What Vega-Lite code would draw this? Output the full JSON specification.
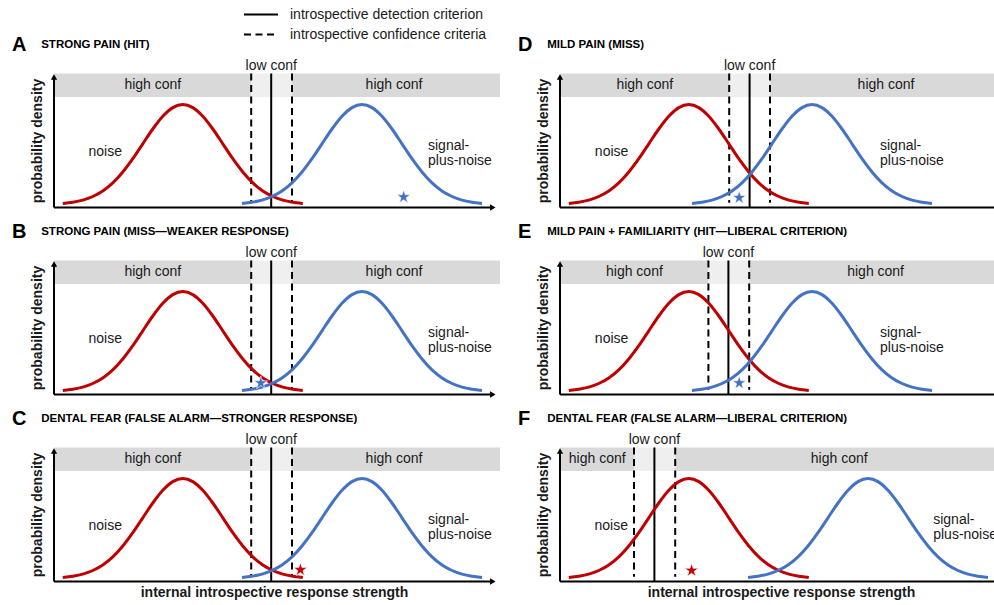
{
"$schema": "https://vega.github.io/schema/vega-lite/v6.json",
"padding": {"left": 12, "top": 4.5, "right": 0, "bottom": 0},
"config": {"view": {"stroke": null}, "font": "Liberation Sans",
 "text": {"font": "Liberation Sans", "fontSize": 14, "color": "#1a1a1a"},
 "rule": {"strokeWidth": 2, "color": "black"},
 "line": {"strokeWidth": 3, "interpolate": "monotone"},
 "axis": {"domain": false, "ticks": false, "labels": false, "grid": false, "titleFont": "Liberation Sans", "titleFontSize": 14, "titleFontWeight": "bold", "titleColor": "#1a1a1a"}},
"data": {"name": "all"},
"datasets": {"all": [
{"p":"A","i":1,"lo":4.93,"c":5.43,"hi":5.95,"end":11.15,"h1":2.47,"h2":8.5,"nx":1.28,"gx":9.35,"sx":8.74,"sy":10.5,"ss":"signal","L":"A","T":"STRONG PAIN (HIT)","ck":"introspective detection criterion","dk":"introspective confidence criteria"},
{"p":"B","i":1,"lo":4.93,"c":5.43,"hi":5.95,"end":11.15,"h1":2.47,"h2":8.5,"nx":1.28,"gx":9.35,"sx":5.17,"sy":11.5,"ss":"signal","L":"B","T":"STRONG PAIN (MISS—WEAKER RESPONSE)","ck":"introspective detection criterion","dk":"introspective confidence criteria"},
{"p":"C","i":1,"lo":4.93,"c":5.43,"hi":5.95,"end":11.15,"h1":2.47,"h2":8.5,"nx":1.28,"gx":9.35,"sx":6.16,"sy":11.7,"ss":"noise","L":"C","T":"DENTAL FEAR (FALSE ALARM—STRONGER RESPONSE)","ck":"introspective detection criterion","dk":"introspective confidence criteria"},
{"p":"D","i":1,"lo":4.23,"c":4.74,"hi":5.25,"end":10.85,"h1":2.12,"h2":8.15,"nx":1.29,"gx":8.0,"sx":4.48,"sy":9.8,"ss":"signal","L":"D","T":"MILD PAIN (MISS)","ck":"introspective detection criterion","dk":"introspective confidence criteria"},
{"p":"E","i":1,"lo":3.71,"c":4.21,"hi":4.73,"end":10.85,"h1":1.86,"h2":7.89,"nx":1.29,"gx":8.0,"sx":4.48,"sy":11.5,"ss":"signal","L":"E","T":"MILD PAIN + FAMILIARITY (HIT—LIBERAL CRITERION)","ck":"introspective detection criterion","dk":"introspective confidence criteria"},
{"p":"F","i":1,"lo":1.85,"c":2.36,"hi":2.88,"end":10.85,"h1":0.93,"h2":6.98,"nx":1.28,"gx":9.33,"sx":3.29,"sy":11,"ss":"noise","L":"F","T":"DENTAL FEAR (FALSE ALARM—LIBERAL CRITERION)","ck":"introspective detection criterion","dk":"introspective confidence criteria"},
{"p":"A","s":"noise","x":0.22,"y":4.1},{"p":"A","s":"noise","x":0.47,"y":5.3},{"p":"A","s":"noise","x":0.72,"y":7.4},{"p":"A","s":"noise","x":0.97,"y":11},{"p":"A","s":"noise","x":1.22,"y":16.5},{"p":"A","s":"noise","x":1.47,"y":24.6},{"p":"A","s":"noise","x":1.72,"y":35.5},{"p":"A","s":"noise","x":1.97,"y":48.8},{"p":"A","s":"noise","x":2.22,"y":63.7},{"p":"A","s":"noise","x":2.47,"y":78.5},{"p":"A","s":"noise","x":2.72,"y":91.2},{"p":"A","s":"noise","x":2.97,"y":99.9},{"p":"A","s":"noise","x":3.22,"y":103},{"p":"A","s":"noise","x":3.47,"y":99.9},{"p":"A","s":"noise","x":3.72,"y":91.2},{"p":"A","s":"noise","x":3.97,"y":78.5},{"p":"A","s":"noise","x":4.22,"y":63.7},{"p":"A","s":"noise","x":4.47,"y":48.8},{"p":"A","s":"noise","x":4.72,"y":35.5},{"p":"A","s":"noise","x":4.97,"y":24.6},{"p":"A","s":"noise","x":5.22,"y":16.5},{"p":"A","s":"noise","x":5.47,"y":11},{"p":"A","s":"noise","x":5.72,"y":7.4},{"p":"A","s":"noise","x":5.97,"y":5.3},{"p":"A","s":"noise","x":6.22,"y":4.1},
{"p":"A","s":"signal","x":4.7,"y":4.1},{"p":"A","s":"signal","x":4.95,"y":5.3},{"p":"A","s":"signal","x":5.2,"y":7.4},{"p":"A","s":"signal","x":5.45,"y":11},{"p":"A","s":"signal","x":5.7,"y":16.5},{"p":"A","s":"signal","x":5.95,"y":24.6},{"p":"A","s":"signal","x":6.2,"y":35.5},{"p":"A","s":"signal","x":6.45,"y":48.8},{"p":"A","s":"signal","x":6.7,"y":63.7},{"p":"A","s":"signal","x":6.95,"y":78.5},{"p":"A","s":"signal","x":7.2,"y":91.2},{"p":"A","s":"signal","x":7.45,"y":99.9},{"p":"A","s":"signal","x":7.7,"y":103},{"p":"A","s":"signal","x":7.95,"y":99.9},{"p":"A","s":"signal","x":8.2,"y":91.2},{"p":"A","s":"signal","x":8.45,"y":78.5},{"p":"A","s":"signal","x":8.7,"y":63.7},{"p":"A","s":"signal","x":8.95,"y":48.8},{"p":"A","s":"signal","x":9.2,"y":35.5},{"p":"A","s":"signal","x":9.45,"y":24.6},{"p":"A","s":"signal","x":9.7,"y":16.5},{"p":"A","s":"signal","x":9.95,"y":11},{"p":"A","s":"signal","x":10.2,"y":7.4},{"p":"A","s":"signal","x":10.45,"y":5.3},{"p":"A","s":"signal","x":10.7,"y":4.1},
{"p":"B","s":"noise","x":0.22,"y":4.1},{"p":"B","s":"noise","x":0.47,"y":5.3},{"p":"B","s":"noise","x":0.72,"y":7.4},{"p":"B","s":"noise","x":0.97,"y":11},{"p":"B","s":"noise","x":1.22,"y":16.5},{"p":"B","s":"noise","x":1.47,"y":24.6},{"p":"B","s":"noise","x":1.72,"y":35.5},{"p":"B","s":"noise","x":1.97,"y":48.8},{"p":"B","s":"noise","x":2.22,"y":63.7},{"p":"B","s":"noise","x":2.47,"y":78.5},{"p":"B","s":"noise","x":2.72,"y":91.2},{"p":"B","s":"noise","x":2.97,"y":99.9},{"p":"B","s":"noise","x":3.22,"y":103},{"p":"B","s":"noise","x":3.47,"y":99.9},{"p":"B","s":"noise","x":3.72,"y":91.2},{"p":"B","s":"noise","x":3.97,"y":78.5},{"p":"B","s":"noise","x":4.22,"y":63.7},{"p":"B","s":"noise","x":4.47,"y":48.8},{"p":"B","s":"noise","x":4.72,"y":35.5},{"p":"B","s":"noise","x":4.97,"y":24.6},{"p":"B","s":"noise","x":5.22,"y":16.5},{"p":"B","s":"noise","x":5.47,"y":11},{"p":"B","s":"noise","x":5.72,"y":7.4},{"p":"B","s":"noise","x":5.97,"y":5.3},{"p":"B","s":"noise","x":6.22,"y":4.1},
{"p":"B","s":"signal","x":4.7,"y":4.1},{"p":"B","s":"signal","x":4.95,"y":5.3},{"p":"B","s":"signal","x":5.2,"y":7.4},{"p":"B","s":"signal","x":5.45,"y":11},{"p":"B","s":"signal","x":5.7,"y":16.5},{"p":"B","s":"signal","x":5.95,"y":24.6},{"p":"B","s":"signal","x":6.2,"y":35.5},{"p":"B","s":"signal","x":6.45,"y":48.8},{"p":"B","s":"signal","x":6.7,"y":63.7},{"p":"B","s":"signal","x":6.95,"y":78.5},{"p":"B","s":"signal","x":7.2,"y":91.2},{"p":"B","s":"signal","x":7.45,"y":99.9},{"p":"B","s":"signal","x":7.7,"y":103},{"p":"B","s":"signal","x":7.95,"y":99.9},{"p":"B","s":"signal","x":8.2,"y":91.2},{"p":"B","s":"signal","x":8.45,"y":78.5},{"p":"B","s":"signal","x":8.7,"y":63.7},{"p":"B","s":"signal","x":8.95,"y":48.8},{"p":"B","s":"signal","x":9.2,"y":35.5},{"p":"B","s":"signal","x":9.45,"y":24.6},{"p":"B","s":"signal","x":9.7,"y":16.5},{"p":"B","s":"signal","x":9.95,"y":11},{"p":"B","s":"signal","x":10.2,"y":7.4},{"p":"B","s":"signal","x":10.45,"y":5.3},{"p":"B","s":"signal","x":10.7,"y":4.1},
{"p":"C","s":"noise","x":0.22,"y":4.1},{"p":"C","s":"noise","x":0.47,"y":5.3},{"p":"C","s":"noise","x":0.72,"y":7.4},{"p":"C","s":"noise","x":0.97,"y":11},{"p":"C","s":"noise","x":1.22,"y":16.5},{"p":"C","s":"noise","x":1.47,"y":24.6},{"p":"C","s":"noise","x":1.72,"y":35.5},{"p":"C","s":"noise","x":1.97,"y":48.8},{"p":"C","s":"noise","x":2.22,"y":63.7},{"p":"C","s":"noise","x":2.47,"y":78.5},{"p":"C","s":"noise","x":2.72,"y":91.2},{"p":"C","s":"noise","x":2.97,"y":99.9},{"p":"C","s":"noise","x":3.22,"y":103},{"p":"C","s":"noise","x":3.47,"y":99.9},{"p":"C","s":"noise","x":3.72,"y":91.2},{"p":"C","s":"noise","x":3.97,"y":78.5},{"p":"C","s":"noise","x":4.22,"y":63.7},{"p":"C","s":"noise","x":4.47,"y":48.8},{"p":"C","s":"noise","x":4.72,"y":35.5},{"p":"C","s":"noise","x":4.97,"y":24.6},{"p":"C","s":"noise","x":5.22,"y":16.5},{"p":"C","s":"noise","x":5.47,"y":11},{"p":"C","s":"noise","x":5.72,"y":7.4},{"p":"C","s":"noise","x":5.97,"y":5.3},{"p":"C","s":"noise","x":6.22,"y":4.1},
{"p":"C","s":"signal","x":4.7,"y":4.1},{"p":"C","s":"signal","x":4.95,"y":5.3},{"p":"C","s":"signal","x":5.2,"y":7.4},{"p":"C","s":"signal","x":5.45,"y":11},{"p":"C","s":"signal","x":5.7,"y":16.5},{"p":"C","s":"signal","x":5.95,"y":24.6},{"p":"C","s":"signal","x":6.2,"y":35.5},{"p":"C","s":"signal","x":6.45,"y":48.8},{"p":"C","s":"signal","x":6.7,"y":63.7},{"p":"C","s":"signal","x":6.95,"y":78.5},{"p":"C","s":"signal","x":7.2,"y":91.2},{"p":"C","s":"signal","x":7.45,"y":99.9},{"p":"C","s":"signal","x":7.7,"y":103},{"p":"C","s":"signal","x":7.95,"y":99.9},{"p":"C","s":"signal","x":8.2,"y":91.2},{"p":"C","s":"signal","x":8.45,"y":78.5},{"p":"C","s":"signal","x":8.7,"y":63.7},{"p":"C","s":"signal","x":8.95,"y":48.8},{"p":"C","s":"signal","x":9.2,"y":35.5},{"p":"C","s":"signal","x":9.45,"y":24.6},{"p":"C","s":"signal","x":9.7,"y":16.5},{"p":"C","s":"signal","x":9.95,"y":11},{"p":"C","s":"signal","x":10.2,"y":7.4},{"p":"C","s":"signal","x":10.45,"y":5.3},{"p":"C","s":"signal","x":10.7,"y":4.1},
{"p":"D","s":"noise","x":0.22,"y":4.1},{"p":"D","s":"noise","x":0.47,"y":5.3},{"p":"D","s":"noise","x":0.72,"y":7.4},{"p":"D","s":"noise","x":0.97,"y":11},{"p":"D","s":"noise","x":1.22,"y":16.5},{"p":"D","s":"noise","x":1.47,"y":24.6},{"p":"D","s":"noise","x":1.72,"y":35.5},{"p":"D","s":"noise","x":1.97,"y":48.8},{"p":"D","s":"noise","x":2.22,"y":63.7},{"p":"D","s":"noise","x":2.47,"y":78.5},{"p":"D","s":"noise","x":2.72,"y":91.2},{"p":"D","s":"noise","x":2.97,"y":99.9},{"p":"D","s":"noise","x":3.22,"y":103},{"p":"D","s":"noise","x":3.47,"y":99.9},{"p":"D","s":"noise","x":3.72,"y":91.2},{"p":"D","s":"noise","x":3.97,"y":78.5},{"p":"D","s":"noise","x":4.22,"y":63.7},{"p":"D","s":"noise","x":4.47,"y":48.8},{"p":"D","s":"noise","x":4.72,"y":35.5},{"p":"D","s":"noise","x":4.97,"y":24.6},{"p":"D","s":"noise","x":5.22,"y":16.5},{"p":"D","s":"noise","x":5.47,"y":11},{"p":"D","s":"noise","x":5.72,"y":7.4},{"p":"D","s":"noise","x":5.97,"y":5.3},{"p":"D","s":"noise","x":6.22,"y":4.1},
{"p":"D","s":"signal","x":3.3,"y":4.1},{"p":"D","s":"signal","x":3.55,"y":5.3},{"p":"D","s":"signal","x":3.8,"y":7.4},{"p":"D","s":"signal","x":4.05,"y":11},{"p":"D","s":"signal","x":4.3,"y":16.5},{"p":"D","s":"signal","x":4.55,"y":24.6},{"p":"D","s":"signal","x":4.8,"y":35.5},{"p":"D","s":"signal","x":5.05,"y":48.8},{"p":"D","s":"signal","x":5.3,"y":63.7},{"p":"D","s":"signal","x":5.55,"y":78.5},{"p":"D","s":"signal","x":5.8,"y":91.2},{"p":"D","s":"signal","x":6.05,"y":99.9},{"p":"D","s":"signal","x":6.3,"y":103},{"p":"D","s":"signal","x":6.55,"y":99.9},{"p":"D","s":"signal","x":6.8,"y":91.2},{"p":"D","s":"signal","x":7.05,"y":78.5},{"p":"D","s":"signal","x":7.3,"y":63.7},{"p":"D","s":"signal","x":7.55,"y":48.8},{"p":"D","s":"signal","x":7.8,"y":35.5},{"p":"D","s":"signal","x":8.05,"y":24.6},{"p":"D","s":"signal","x":8.3,"y":16.5},{"p":"D","s":"signal","x":8.55,"y":11},{"p":"D","s":"signal","x":8.8,"y":7.4},{"p":"D","s":"signal","x":9.05,"y":5.3},{"p":"D","s":"signal","x":9.3,"y":4.1},
{"p":"E","s":"noise","x":0.22,"y":4.1},{"p":"E","s":"noise","x":0.47,"y":5.3},{"p":"E","s":"noise","x":0.72,"y":7.4},{"p":"E","s":"noise","x":0.97,"y":11},{"p":"E","s":"noise","x":1.22,"y":16.5},{"p":"E","s":"noise","x":1.47,"y":24.6},{"p":"E","s":"noise","x":1.72,"y":35.5},{"p":"E","s":"noise","x":1.97,"y":48.8},{"p":"E","s":"noise","x":2.22,"y":63.7},{"p":"E","s":"noise","x":2.47,"y":78.5},{"p":"E","s":"noise","x":2.72,"y":91.2},{"p":"E","s":"noise","x":2.97,"y":99.9},{"p":"E","s":"noise","x":3.22,"y":103},{"p":"E","s":"noise","x":3.47,"y":99.9},{"p":"E","s":"noise","x":3.72,"y":91.2},{"p":"E","s":"noise","x":3.97,"y":78.5},{"p":"E","s":"noise","x":4.22,"y":63.7},{"p":"E","s":"noise","x":4.47,"y":48.8},{"p":"E","s":"noise","x":4.72,"y":35.5},{"p":"E","s":"noise","x":4.97,"y":24.6},{"p":"E","s":"noise","x":5.22,"y":16.5},{"p":"E","s":"noise","x":5.47,"y":11},{"p":"E","s":"noise","x":5.72,"y":7.4},{"p":"E","s":"noise","x":5.97,"y":5.3},{"p":"E","s":"noise","x":6.22,"y":4.1},
{"p":"E","s":"signal","x":3.3,"y":4.1},{"p":"E","s":"signal","x":3.55,"y":5.3},{"p":"E","s":"signal","x":3.8,"y":7.4},{"p":"E","s":"signal","x":4.05,"y":11},{"p":"E","s":"signal","x":4.3,"y":16.5},{"p":"E","s":"signal","x":4.55,"y":24.6},{"p":"E","s":"signal","x":4.8,"y":35.5},{"p":"E","s":"signal","x":5.05,"y":48.8},{"p":"E","s":"signal","x":5.3,"y":63.7},{"p":"E","s":"signal","x":5.55,"y":78.5},{"p":"E","s":"signal","x":5.8,"y":91.2},{"p":"E","s":"signal","x":6.05,"y":99.9},{"p":"E","s":"signal","x":6.3,"y":103},{"p":"E","s":"signal","x":6.55,"y":99.9},{"p":"E","s":"signal","x":6.8,"y":91.2},{"p":"E","s":"signal","x":7.05,"y":78.5},{"p":"E","s":"signal","x":7.3,"y":63.7},{"p":"E","s":"signal","x":7.55,"y":48.8},{"p":"E","s":"signal","x":7.8,"y":35.5},{"p":"E","s":"signal","x":8.05,"y":24.6},{"p":"E","s":"signal","x":8.3,"y":16.5},{"p":"E","s":"signal","x":8.55,"y":11},{"p":"E","s":"signal","x":8.8,"y":7.4},{"p":"E","s":"signal","x":9.05,"y":5.3},{"p":"E","s":"signal","x":9.3,"y":4.1},
{"p":"F","s":"noise","x":0.22,"y":4.1},{"p":"F","s":"noise","x":0.47,"y":5.3},{"p":"F","s":"noise","x":0.72,"y":7.4},{"p":"F","s":"noise","x":0.97,"y":11},{"p":"F","s":"noise","x":1.22,"y":16.5},{"p":"F","s":"noise","x":1.47,"y":24.6},{"p":"F","s":"noise","x":1.72,"y":35.5},{"p":"F","s":"noise","x":1.97,"y":48.8},{"p":"F","s":"noise","x":2.22,"y":63.7},{"p":"F","s":"noise","x":2.47,"y":78.5},{"p":"F","s":"noise","x":2.72,"y":91.2},{"p":"F","s":"noise","x":2.97,"y":99.9},{"p":"F","s":"noise","x":3.22,"y":103},{"p":"F","s":"noise","x":3.47,"y":99.9},{"p":"F","s":"noise","x":3.72,"y":91.2},{"p":"F","s":"noise","x":3.97,"y":78.5},{"p":"F","s":"noise","x":4.22,"y":63.7},{"p":"F","s":"noise","x":4.47,"y":48.8},{"p":"F","s":"noise","x":4.72,"y":35.5},{"p":"F","s":"noise","x":4.97,"y":24.6},{"p":"F","s":"noise","x":5.22,"y":16.5},{"p":"F","s":"noise","x":5.47,"y":11},{"p":"F","s":"noise","x":5.72,"y":7.4},{"p":"F","s":"noise","x":5.97,"y":5.3},{"p":"F","s":"noise","x":6.22,"y":4.1},
{"p":"F","s":"signal","x":4.7,"y":4.1},{"p":"F","s":"signal","x":4.95,"y":5.3},{"p":"F","s":"signal","x":5.2,"y":7.4},{"p":"F","s":"signal","x":5.45,"y":11},{"p":"F","s":"signal","x":5.7,"y":16.5},{"p":"F","s":"signal","x":5.95,"y":24.6},{"p":"F","s":"signal","x":6.2,"y":35.5},{"p":"F","s":"signal","x":6.45,"y":48.8},{"p":"F","s":"signal","x":6.7,"y":63.7},{"p":"F","s":"signal","x":6.95,"y":78.5},{"p":"F","s":"signal","x":7.2,"y":91.2},{"p":"F","s":"signal","x":7.45,"y":99.9},{"p":"F","s":"signal","x":7.7,"y":103},{"p":"F","s":"signal","x":7.95,"y":99.9},{"p":"F","s":"signal","x":8.2,"y":91.2},{"p":"F","s":"signal","x":8.45,"y":78.5},{"p":"F","s":"signal","x":8.7,"y":63.7},{"p":"F","s":"signal","x":8.95,"y":48.8},{"p":"F","s":"signal","x":9.2,"y":35.5},{"p":"F","s":"signal","x":9.45,"y":24.6},{"p":"F","s":"signal","x":9.7,"y":16.5},{"p":"F","s":"signal","x":9.95,"y":11},{"p":"F","s":"signal","x":10.2,"y":7.4},{"p":"F","s":"signal","x":10.45,"y":5.3},{"p":"F","s":"signal","x":10.7,"y":4.1}
]},
"bounds": "flush",
"columns": 2,
"spacing": {"row": 53, "column": 66},
"concat": [
{"width": 440, "height": 134, "transform": [{"filter": "datum.p == 'A'"}], "layer": [
{"transform": [{"filter": "datum.i"}], "mark": {"type": "rect", "color": "#d9d9d9"}, "encoding": {"x": {"field": "lo", "type": "quantitative", "scale": {"domain": [0, 11], "nice": false, "zero": false}, "axis": null}, "x2": {"datum": 0}, "y": {"datum": 110.5, "type": "quantitative", "scale": {"domain": [0, 134], "nice": false, "zero": false}, "axis": {"title": "probability density", "titlePadding": 10}}, "y2": {"datum": 134}}},
{"transform": [{"filter": "datum.i"}], "mark": {"type": "rect", "color": "#efefef"}, "encoding": {"x": {"field": "lo", "type": "quantitative"}, "x2": {"field": "hi"}, "y": {"datum": 110.5}, "y2": {"datum": 134}}},
{"transform": [{"filter": "datum.i"}], "mark": {"type": "rect", "color": "#d9d9d9"}, "encoding": {"x": {"field": "hi", "type": "quantitative"}, "x2": {"field": "end"}, "y": {"datum": 110.5}, "y2": {"datum": 134}}},
{"transform": [{"filter": "datum.i"}], "mark": {"type": "text"}, "encoding": {"x": {"field": "h1", "type": "quantitative"}, "y": {"datum": 122.5}, "text": {"value": "high conf"}}},
{"transform": [{"filter": "datum.i"}], "mark": {"type": "text"}, "encoding": {"x": {"field": "h2", "type": "quantitative"}, "y": {"datum": 122.5}, "text": {"value": "high conf"}}},
{"transform": [{"filter": "datum.i"}], "mark": {"type": "text"}, "encoding": {"x": {"field": "c", "type": "quantitative"}, "y": {"datum": 141.5}, "text": {"value": "low conf"}}},
{"transform": [{"filter": "datum.i"}], "mark": {"type": "rule"}, "encoding": {"x": {"field": "c", "type": "quantitative"}, "y": {"datum": 134}, "y2": {"datum": 0}, "strokeDash": {"field": "ck", "type": "nominal", "scale": {"domain": ["introspective detection criterion", "introspective confidence criteria"], "range": [[1, 0], [7, 4.5]]}, "legend": {"orient": "none", "legendX": 197.5, "legendY": -68.5, "title": null, "symbolType": "M-2,0L2,0", "symbolSize": 289, "symbolStrokeWidth": 2, "symbolStrokeColor": "black", "labelFontSize": 14, "labelFont": "Liberation Sans", "labelColor": "#1a1a1a", "labelOffset": 19.5, "labelLimit": 0, "rowPadding": 3}}}},
{"transform": [{"filter": "datum.i"}], "mark": {"type": "rule"}, "encoding": {"x": {"field": "lo", "type": "quantitative"}, "y": {"datum": 134}, "y2": {"datum": 4.8}, "strokeDash": {"field": "dk", "type": "nominal"}}},
{"transform": [{"filter": "datum.i"}], "mark": {"type": "rule"}, "encoding": {"x": {"field": "hi", "type": "quantitative"}, "y": {"datum": 134}, "y2": {"datum": 4.8}, "strokeDash": {"field": "dk", "type": "nominal"}}},
{"transform": [{"filter": "datum.i"}], "mark": {"type": "rule"}, "encoding": {"x": {"datum": 0}, "x2": {"datum": 10.9}, "y": {"datum": 0}}},
{"transform": [{"filter": "datum.i"}], "mark": {"type": "rule"}, "encoding": {"x": {"datum": 0}, "y": {"datum": 0}, "y2": {"datum": 129}}},
{"transform": [{"filter": "datum.i"}], "mark": {"type": "point", "shape": "triangle-up", "filled": true, "color": "black", "size": 40, "opacity": 1}, "encoding": {"x": {"datum": 0}, "y": {"datum": 130.5}}},
{"transform": [{"filter": "datum.i"}], "mark": {"type": "point", "shape": "triangle-right", "filled": true, "color": "black", "size": 40, "opacity": 1}, "encoding": {"x": {"datum": 10.97}, "y": {"datum": 0}}},
{"transform": [{"filter": "datum.s"}], "mark": {"type": "line"}, "encoding": {"x": {"field": "x", "type": "quantitative"}, "y": {"field": "y", "type": "quantitative"}, "color": {"field": "s", "type": "nominal", "scale": {"domain": ["noise", "signal"], "range": ["#c00000", "#4472c4"]}, "legend": null}}},
{"transform": [{"filter": "datum.i"}], "mark": {"type": "point", "shape": "M0,-1L0.2245,-0.309L0.951,-0.309L0.363,0.118L0.588,0.809L0,0.382L-0.588,0.809L-0.363,0.118L-0.951,-0.309L-0.2245,-0.309Z", "filled": true, "size": 200, "opacity": 1, "stroke": "white", "strokeWidth": 0.6}, "encoding": {"x": {"field": "sx", "type": "quantitative"}, "y": {"field": "sy", "type": "quantitative"}, "color": {"field": "ss", "type": "nominal", "legend": null}}},
{"transform": [{"filter": "datum.i"}], "mark": {"type": "text"}, "encoding": {"x": {"field": "nx", "type": "quantitative"}, "y": {"datum": 55.5}, "text": {"value": "noise"}}},
{"transform": [{"filter": "datum.i"}], "mark": {"type": "text", "align": "left"}, "encoding": {"x": {"field": "gx", "type": "quantitative"}, "y": {"datum": 61.5}, "text": {"value": "signal-"}}},
{"transform": [{"filter": "datum.i"}], "mark": {"type": "text", "align": "left"}, "encoding": {"x": {"field": "gx", "type": "quantitative"}, "y": {"datum": 46.5}, "text": {"value": "plus-noise"}}},
{"transform": [{"filter": "datum.i"}], "mark": {"type": "text", "align": "left", "fontSize": 20, "fontWeight": "bold", "color": "black"}, "encoding": {"x": {"datum": -1.05}, "y": {"datum": 162.5}, "text": {"field": "L", "type": "nominal"}}},
{"transform": [{"filter": "datum.i"}], "mark": {"type": "text", "align": "left", "fontSize": 11.5, "fontWeight": "bold", "color": "black"}, "encoding": {"x": {"datum": -0.32}, "y": {"datum": 162.5}, "text": {"field": "T", "type": "nominal"}}}
]},
{"width": 434, "height": 134, "transform": [{"filter": "datum.p == 'D'"}], "layer": [
{"transform": [{"filter": "datum.i"}], "mark": {"type": "rect", "color": "#d9d9d9"}, "encoding": {"x": {"field": "lo", "type": "quantitative", "scale": {"domain": [0, 10.85], "nice": false, "zero": false}, "axis": null}, "x2": {"datum": 0}, "y": {"datum": 110.5, "type": "quantitative", "scale": {"domain": [0, 134], "nice": false, "zero": false}, "axis": {"title": "probability density", "titlePadding": 10}}, "y2": {"datum": 134}}},
{"transform": [{"filter": "datum.i"}], "mark": {"type": "rect", "color": "#efefef"}, "encoding": {"x": {"field": "lo", "type": "quantitative"}, "x2": {"field": "hi"}, "y": {"datum": 110.5}, "y2": {"datum": 134}}},
{"transform": [{"filter": "datum.i"}], "mark": {"type": "rect", "color": "#d9d9d9"}, "encoding": {"x": {"field": "hi", "type": "quantitative"}, "x2": {"field": "end"}, "y": {"datum": 110.5}, "y2": {"datum": 134}}},
{"transform": [{"filter": "datum.i"}], "mark": {"type": "text"}, "encoding": {"x": {"field": "h1", "type": "quantitative"}, "y": {"datum": 122.5}, "text": {"value": "high conf"}}},
{"transform": [{"filter": "datum.i"}], "mark": {"type": "text"}, "encoding": {"x": {"field": "h2", "type": "quantitative"}, "y": {"datum": 122.5}, "text": {"value": "high conf"}}},
{"transform": [{"filter": "datum.i"}], "mark": {"type": "text"}, "encoding": {"x": {"field": "c", "type": "quantitative"}, "y": {"datum": 141.5}, "text": {"value": "low conf"}}},
{"transform": [{"filter": "datum.i"}], "mark": {"type": "rule"}, "encoding": {"x": {"field": "c", "type": "quantitative"}, "y": {"datum": 134}, "y2": {"datum": 0}, "strokeDash": {"field": "ck", "type": "nominal"}}},
{"transform": [{"filter": "datum.i"}], "mark": {"type": "rule"}, "encoding": {"x": {"field": "lo", "type": "quantitative"}, "y": {"datum": 134}, "y2": {"datum": 4.8}, "strokeDash": {"field": "dk", "type": "nominal"}}},
{"transform": [{"filter": "datum.i"}], "mark": {"type": "rule"}, "encoding": {"x": {"field": "hi", "type": "quantitative"}, "y": {"datum": 134}, "y2": {"datum": 4.8}, "strokeDash": {"field": "dk", "type": "nominal"}}},
{"transform": [{"filter": "datum.i"}], "mark": {"type": "rule"}, "encoding": {"x": {"datum": 0}, "x2": {"datum": 10.85}, "y": {"datum": 0}}},
{"transform": [{"filter": "datum.i"}], "mark": {"type": "rule"}, "encoding": {"x": {"datum": 0}, "y": {"datum": 0}, "y2": {"datum": 129}}},
{"transform": [{"filter": "datum.i"}], "mark": {"type": "point", "shape": "triangle-up", "filled": true, "color": "black", "size": 40, "opacity": 1}, "encoding": {"x": {"datum": 0}, "y": {"datum": 130.5}}},
{"transform": [{"filter": "datum.s"}], "mark": {"type": "line"}, "encoding": {"x": {"field": "x", "type": "quantitative"}, "y": {"field": "y", "type": "quantitative"}, "color": {"field": "s", "type": "nominal", "scale": {"domain": ["noise", "signal"], "range": ["#c00000", "#4472c4"]}, "legend": null}}},
{"transform": [{"filter": "datum.i"}], "mark": {"type": "point", "shape": "M0,-1L0.2245,-0.309L0.951,-0.309L0.363,0.118L0.588,0.809L0,0.382L-0.588,0.809L-0.363,0.118L-0.951,-0.309L-0.2245,-0.309Z", "filled": true, "size": 200, "opacity": 1, "stroke": "white", "strokeWidth": 0.6}, "encoding": {"x": {"field": "sx", "type": "quantitative"}, "y": {"field": "sy", "type": "quantitative"}, "color": {"field": "ss", "type": "nominal", "legend": null}}},
{"transform": [{"filter": "datum.i"}], "mark": {"type": "text"}, "encoding": {"x": {"field": "nx", "type": "quantitative"}, "y": {"datum": 55.5}, "text": {"value": "noise"}}},
{"transform": [{"filter": "datum.i"}], "mark": {"type": "text", "align": "left", "clip": true}, "encoding": {"x": {"field": "gx", "type": "quantitative"}, "y": {"datum": 61.5}, "text": {"value": "signal-"}}},
{"transform": [{"filter": "datum.i"}], "mark": {"type": "text", "align": "left", "clip": true}, "encoding": {"x": {"field": "gx", "type": "quantitative"}, "y": {"datum": 46.5}, "text": {"value": "plus-noise"}}},
{"transform": [{"filter": "datum.i"}], "mark": {"type": "text", "align": "left", "fontSize": 20, "fontWeight": "bold", "color": "black"}, "encoding": {"x": {"datum": -1.05}, "y": {"datum": 162.5}, "text": {"field": "L", "type": "nominal"}}},
{"transform": [{"filter": "datum.i"}], "mark": {"type": "text", "align": "left", "fontSize": 11.5, "fontWeight": "bold", "color": "black"}, "encoding": {"x": {"datum": -0.32}, "y": {"datum": 162.5}, "text": {"field": "T", "type": "nominal"}}}
]},
{"width": 440, "height": 134, "transform": [{"filter": "datum.p == 'B'"}], "layer": [
{"transform": [{"filter": "datum.i"}], "mark": {"type": "rect", "color": "#d9d9d9"}, "encoding": {"x": {"field": "lo", "type": "quantitative", "scale": {"domain": [0, 11], "nice": false, "zero": false}, "axis": null}, "x2": {"datum": 0}, "y": {"datum": 110.5, "type": "quantitative", "scale": {"domain": [0, 134], "nice": false, "zero": false}, "axis": {"title": "probability density", "titlePadding": 10}}, "y2": {"datum": 134}}},
{"transform": [{"filter": "datum.i"}], "mark": {"type": "rect", "color": "#efefef"}, "encoding": {"x": {"field": "lo", "type": "quantitative"}, "x2": {"field": "hi"}, "y": {"datum": 110.5}, "y2": {"datum": 134}}},
{"transform": [{"filter": "datum.i"}], "mark": {"type": "rect", "color": "#d9d9d9"}, "encoding": {"x": {"field": "hi", "type": "quantitative"}, "x2": {"field": "end"}, "y": {"datum": 110.5}, "y2": {"datum": 134}}},
{"transform": [{"filter": "datum.i"}], "mark": {"type": "text"}, "encoding": {"x": {"field": "h1", "type": "quantitative"}, "y": {"datum": 122.5}, "text": {"value": "high conf"}}},
{"transform": [{"filter": "datum.i"}], "mark": {"type": "text"}, "encoding": {"x": {"field": "h2", "type": "quantitative"}, "y": {"datum": 122.5}, "text": {"value": "high conf"}}},
{"transform": [{"filter": "datum.i"}], "mark": {"type": "text"}, "encoding": {"x": {"field": "c", "type": "quantitative"}, "y": {"datum": 141.5}, "text": {"value": "low conf"}}},
{"transform": [{"filter": "datum.i"}], "mark": {"type": "rule"}, "encoding": {"x": {"field": "c", "type": "quantitative"}, "y": {"datum": 134}, "y2": {"datum": 0}, "strokeDash": {"field": "ck", "type": "nominal"}}},
{"transform": [{"filter": "datum.i"}], "mark": {"type": "rule"}, "encoding": {"x": {"field": "lo", "type": "quantitative"}, "y": {"datum": 134}, "y2": {"datum": 4.8}, "strokeDash": {"field": "dk", "type": "nominal"}}},
{"transform": [{"filter": "datum.i"}], "mark": {"type": "rule"}, "encoding": {"x": {"field": "hi", "type": "quantitative"}, "y": {"datum": 134}, "y2": {"datum": 4.8}, "strokeDash": {"field": "dk", "type": "nominal"}}},
{"transform": [{"filter": "datum.i"}], "mark": {"type": "rule"}, "encoding": {"x": {"datum": 0}, "x2": {"datum": 10.9}, "y": {"datum": 0}}},
{"transform": [{"filter": "datum.i"}], "mark": {"type": "rule"}, "encoding": {"x": {"datum": 0}, "y": {"datum": 0}, "y2": {"datum": 129}}},
{"transform": [{"filter": "datum.i"}], "mark": {"type": "point", "shape": "triangle-up", "filled": true, "color": "black", "size": 40, "opacity": 1}, "encoding": {"x": {"datum": 0}, "y": {"datum": 130.5}}},
{"transform": [{"filter": "datum.i"}], "mark": {"type": "point", "shape": "triangle-right", "filled": true, "color": "black", "size": 40, "opacity": 1}, "encoding": {"x": {"datum": 10.97}, "y": {"datum": 0}}},
{"transform": [{"filter": "datum.s"}], "mark": {"type": "line"}, "encoding": {"x": {"field": "x", "type": "quantitative"}, "y": {"field": "y", "type": "quantitative"}, "color": {"field": "s", "type": "nominal", "scale": {"domain": ["noise", "signal"], "range": ["#c00000", "#4472c4"]}, "legend": null}}},
{"transform": [{"filter": "datum.i"}], "mark": {"type": "point", "shape": "M0,-1L0.2245,-0.309L0.951,-0.309L0.363,0.118L0.588,0.809L0,0.382L-0.588,0.809L-0.363,0.118L-0.951,-0.309L-0.2245,-0.309Z", "filled": true, "size": 200, "opacity": 1, "stroke": "white", "strokeWidth": 0.6}, "encoding": {"x": {"field": "sx", "type": "quantitative"}, "y": {"field": "sy", "type": "quantitative"}, "color": {"field": "ss", "type": "nominal", "legend": null}}},
{"transform": [{"filter": "datum.i"}], "mark": {"type": "text"}, "encoding": {"x": {"field": "nx", "type": "quantitative"}, "y": {"datum": 55.5}, "text": {"value": "noise"}}},
{"transform": [{"filter": "datum.i"}], "mark": {"type": "text", "align": "left"}, "encoding": {"x": {"field": "gx", "type": "quantitative"}, "y": {"datum": 61.5}, "text": {"value": "signal-"}}},
{"transform": [{"filter": "datum.i"}], "mark": {"type": "text", "align": "left"}, "encoding": {"x": {"field": "gx", "type": "quantitative"}, "y": {"datum": 46.5}, "text": {"value": "plus-noise"}}},
{"transform": [{"filter": "datum.i"}], "mark": {"type": "text", "align": "left", "fontSize": 20, "fontWeight": "bold", "color": "black"}, "encoding": {"x": {"datum": -1.05}, "y": {"datum": 162.5}, "text": {"field": "L", "type": "nominal"}}},
{"transform": [{"filter": "datum.i"}], "mark": {"type": "text", "align": "left", "fontSize": 11.5, "fontWeight": "bold", "color": "black"}, "encoding": {"x": {"datum": -0.32}, "y": {"datum": 162.5}, "text": {"field": "T", "type": "nominal"}}}
]},
{"width": 434, "height": 134, "transform": [{"filter": "datum.p == 'E'"}], "layer": [
{"transform": [{"filter": "datum.i"}], "mark": {"type": "rect", "color": "#d9d9d9"}, "encoding": {"x": {"field": "lo", "type": "quantitative", "scale": {"domain": [0, 10.85], "nice": false, "zero": false}, "axis": null}, "x2": {"datum": 0}, "y": {"datum": 110.5, "type": "quantitative", "scale": {"domain": [0, 134], "nice": false, "zero": false}, "axis": {"title": "probability density", "titlePadding": 10}}, "y2": {"datum": 134}}},
{"transform": [{"filter": "datum.i"}], "mark": {"type": "rect", "color": "#efefef"}, "encoding": {"x": {"field": "lo", "type": "quantitative"}, "x2": {"field": "hi"}, "y": {"datum": 110.5}, "y2": {"datum": 134}}},
{"transform": [{"filter": "datum.i"}], "mark": {"type": "rect", "color": "#d9d9d9"}, "encoding": {"x": {"field": "hi", "type": "quantitative"}, "x2": {"field": "end"}, "y": {"datum": 110.5}, "y2": {"datum": 134}}},
{"transform": [{"filter": "datum.i"}], "mark": {"type": "text"}, "encoding": {"x": {"field": "h1", "type": "quantitative"}, "y": {"datum": 122.5}, "text": {"value": "high conf"}}},
{"transform": [{"filter": "datum.i"}], "mark": {"type": "text"}, "encoding": {"x": {"field": "h2", "type": "quantitative"}, "y": {"datum": 122.5}, "text": {"value": "high conf"}}},
{"transform": [{"filter": "datum.i"}], "mark": {"type": "text"}, "encoding": {"x": {"field": "c", "type": "quantitative"}, "y": {"datum": 141.5}, "text": {"value": "low conf"}}},
{"transform": [{"filter": "datum.i"}], "mark": {"type": "rule"}, "encoding": {"x": {"field": "c", "type": "quantitative"}, "y": {"datum": 134}, "y2": {"datum": 0}, "strokeDash": {"field": "ck", "type": "nominal"}}},
{"transform": [{"filter": "datum.i"}], "mark": {"type": "rule"}, "encoding": {"x": {"field": "lo", "type": "quantitative"}, "y": {"datum": 134}, "y2": {"datum": 4.8}, "strokeDash": {"field": "dk", "type": "nominal"}}},
{"transform": [{"filter": "datum.i"}], "mark": {"type": "rule"}, "encoding": {"x": {"field": "hi", "type": "quantitative"}, "y": {"datum": 134}, "y2": {"datum": 4.8}, "strokeDash": {"field": "dk", "type": "nominal"}}},
{"transform": [{"filter": "datum.i"}], "mark": {"type": "rule"}, "encoding": {"x": {"datum": 0}, "x2": {"datum": 10.85}, "y": {"datum": 0}}},
{"transform": [{"filter": "datum.i"}], "mark": {"type": "rule"}, "encoding": {"x": {"datum": 0}, "y": {"datum": 0}, "y2": {"datum": 129}}},
{"transform": [{"filter": "datum.i"}], "mark": {"type": "point", "shape": "triangle-up", "filled": true, "color": "black", "size": 40, "opacity": 1}, "encoding": {"x": {"datum": 0}, "y": {"datum": 130.5}}},
{"transform": [{"filter": "datum.s"}], "mark": {"type": "line"}, "encoding": {"x": {"field": "x", "type": "quantitative"}, "y": {"field": "y", "type": "quantitative"}, "color": {"field": "s", "type": "nominal", "scale": {"domain": ["noise", "signal"], "range": ["#c00000", "#4472c4"]}, "legend": null}}},
{"transform": [{"filter": "datum.i"}], "mark": {"type": "point", "shape": "M0,-1L0.2245,-0.309L0.951,-0.309L0.363,0.118L0.588,0.809L0,0.382L-0.588,0.809L-0.363,0.118L-0.951,-0.309L-0.2245,-0.309Z", "filled": true, "size": 200, "opacity": 1, "stroke": "white", "strokeWidth": 0.6}, "encoding": {"x": {"field": "sx", "type": "quantitative"}, "y": {"field": "sy", "type": "quantitative"}, "color": {"field": "ss", "type": "nominal", "legend": null}}},
{"transform": [{"filter": "datum.i"}], "mark": {"type": "text"}, "encoding": {"x": {"field": "nx", "type": "quantitative"}, "y": {"datum": 55.5}, "text": {"value": "noise"}}},
{"transform": [{"filter": "datum.i"}], "mark": {"type": "text", "align": "left", "clip": true}, "encoding": {"x": {"field": "gx", "type": "quantitative"}, "y": {"datum": 61.5}, "text": {"value": "signal-"}}},
{"transform": [{"filter": "datum.i"}], "mark": {"type": "text", "align": "left", "clip": true}, "encoding": {"x": {"field": "gx", "type": "quantitative"}, "y": {"datum": 46.5}, "text": {"value": "plus-noise"}}},
{"transform": [{"filter": "datum.i"}], "mark": {"type": "text", "align": "left", "fontSize": 20, "fontWeight": "bold", "color": "black"}, "encoding": {"x": {"datum": -1.05}, "y": {"datum": 162.5}, "text": {"field": "L", "type": "nominal"}}},
{"transform": [{"filter": "datum.i"}], "mark": {"type": "text", "align": "left", "fontSize": 11.5, "fontWeight": "bold", "color": "black"}, "encoding": {"x": {"datum": -0.32}, "y": {"datum": 162.5}, "text": {"field": "T", "type": "nominal"}}}
]},
{"width": 440, "height": 134, "transform": [{"filter": "datum.p == 'C'"}], "layer": [
{"transform": [{"filter": "datum.i"}], "mark": {"type": "rect", "color": "#d9d9d9"}, "encoding": {"x": {"field": "lo", "type": "quantitative", "scale": {"domain": [0, 11], "nice": false, "zero": false}, "axis": {"title": "internal introspective response strength", "titlePadding": 4}}, "x2": {"datum": 0}, "y": {"datum": 110.5, "type": "quantitative", "scale": {"domain": [0, 134], "nice": false, "zero": false}, "axis": {"title": "probability density", "titlePadding": 10}}, "y2": {"datum": 134}}},
{"transform": [{"filter": "datum.i"}], "mark": {"type": "rect", "color": "#efefef"}, "encoding": {"x": {"field": "lo", "type": "quantitative"}, "x2": {"field": "hi"}, "y": {"datum": 110.5}, "y2": {"datum": 134}}},
{"transform": [{"filter": "datum.i"}], "mark": {"type": "rect", "color": "#d9d9d9"}, "encoding": {"x": {"field": "hi", "type": "quantitative"}, "x2": {"field": "end"}, "y": {"datum": 110.5}, "y2": {"datum": 134}}},
{"transform": [{"filter": "datum.i"}], "mark": {"type": "text"}, "encoding": {"x": {"field": "h1", "type": "quantitative"}, "y": {"datum": 122.5}, "text": {"value": "high conf"}}},
{"transform": [{"filter": "datum.i"}], "mark": {"type": "text"}, "encoding": {"x": {"field": "h2", "type": "quantitative"}, "y": {"datum": 122.5}, "text": {"value": "high conf"}}},
{"transform": [{"filter": "datum.i"}], "mark": {"type": "text"}, "encoding": {"x": {"field": "c", "type": "quantitative"}, "y": {"datum": 141.5}, "text": {"value": "low conf"}}},
{"transform": [{"filter": "datum.i"}], "mark": {"type": "rule"}, "encoding": {"x": {"field": "c", "type": "quantitative"}, "y": {"datum": 134}, "y2": {"datum": 0}, "strokeDash": {"field": "ck", "type": "nominal"}}},
{"transform": [{"filter": "datum.i"}], "mark": {"type": "rule"}, "encoding": {"x": {"field": "lo", "type": "quantitative"}, "y": {"datum": 134}, "y2": {"datum": 4.8}, "strokeDash": {"field": "dk", "type": "nominal"}}},
{"transform": [{"filter": "datum.i"}], "mark": {"type": "rule"}, "encoding": {"x": {"field": "hi", "type": "quantitative"}, "y": {"datum": 134}, "y2": {"datum": 4.8}, "strokeDash": {"field": "dk", "type": "nominal"}}},
{"transform": [{"filter": "datum.i"}], "mark": {"type": "rule"}, "encoding": {"x": {"datum": 0}, "x2": {"datum": 10.9}, "y": {"datum": 0}}},
{"transform": [{"filter": "datum.i"}], "mark": {"type": "rule"}, "encoding": {"x": {"datum": 0}, "y": {"datum": 0}, "y2": {"datum": 129}}},
{"transform": [{"filter": "datum.i"}], "mark": {"type": "point", "shape": "triangle-up", "filled": true, "color": "black", "size": 40, "opacity": 1}, "encoding": {"x": {"datum": 0}, "y": {"datum": 130.5}}},
{"transform": [{"filter": "datum.i"}], "mark": {"type": "point", "shape": "triangle-right", "filled": true, "color": "black", "size": 40, "opacity": 1}, "encoding": {"x": {"datum": 10.97}, "y": {"datum": 0}}},
{"transform": [{"filter": "datum.s"}], "mark": {"type": "line"}, "encoding": {"x": {"field": "x", "type": "quantitative"}, "y": {"field": "y", "type": "quantitative"}, "color": {"field": "s", "type": "nominal", "scale": {"domain": ["noise", "signal"], "range": ["#c00000", "#4472c4"]}, "legend": null}}},
{"transform": [{"filter": "datum.i"}], "mark": {"type": "point", "shape": "M0,-1L0.2245,-0.309L0.951,-0.309L0.363,0.118L0.588,0.809L0,0.382L-0.588,0.809L-0.363,0.118L-0.951,-0.309L-0.2245,-0.309Z", "filled": true, "size": 200, "opacity": 1, "stroke": "white", "strokeWidth": 0.6}, "encoding": {"x": {"field": "sx", "type": "quantitative"}, "y": {"field": "sy", "type": "quantitative"}, "color": {"field": "ss", "type": "nominal", "legend": null}}},
{"transform": [{"filter": "datum.i"}], "mark": {"type": "text"}, "encoding": {"x": {"field": "nx", "type": "quantitative"}, "y": {"datum": 55.5}, "text": {"value": "noise"}}},
{"transform": [{"filter": "datum.i"}], "mark": {"type": "text", "align": "left"}, "encoding": {"x": {"field": "gx", "type": "quantitative"}, "y": {"datum": 61.5}, "text": {"value": "signal-"}}},
{"transform": [{"filter": "datum.i"}], "mark": {"type": "text", "align": "left"}, "encoding": {"x": {"field": "gx", "type": "quantitative"}, "y": {"datum": 46.5}, "text": {"value": "plus-noise"}}},
{"transform": [{"filter": "datum.i"}], "mark": {"type": "text", "align": "left", "fontSize": 20, "fontWeight": "bold", "color": "black"}, "encoding": {"x": {"datum": -1.05}, "y": {"datum": 162.5}, "text": {"field": "L", "type": "nominal"}}},
{"transform": [{"filter": "datum.i"}], "mark": {"type": "text", "align": "left", "fontSize": 11.5, "fontWeight": "bold", "color": "black"}, "encoding": {"x": {"datum": -0.32}, "y": {"datum": 162.5}, "text": {"field": "T", "type": "nominal"}}}
]},
{"width": 434, "height": 134, "transform": [{"filter": "datum.p == 'F'"}], "layer": [
{"transform": [{"filter": "datum.i"}], "mark": {"type": "rect", "color": "#d9d9d9"}, "encoding": {"x": {"field": "lo", "type": "quantitative", "scale": {"domain": [0, 10.85], "nice": false, "zero": false}, "axis": {"title": "internal introspective response strength", "titlePadding": 4, "titleX": 221}}, "x2": {"datum": 0}, "y": {"datum": 110.5, "type": "quantitative", "scale": {"domain": [0, 134], "nice": false, "zero": false}, "axis": {"title": "probability density", "titlePadding": 10}}, "y2": {"datum": 134}}},
{"transform": [{"filter": "datum.i"}], "mark": {"type": "rect", "color": "#efefef"}, "encoding": {"x": {"field": "lo", "type": "quantitative"}, "x2": {"field": "hi"}, "y": {"datum": 110.5}, "y2": {"datum": 134}}},
{"transform": [{"filter": "datum.i"}], "mark": {"type": "rect", "color": "#d9d9d9"}, "encoding": {"x": {"field": "hi", "type": "quantitative"}, "x2": {"field": "end"}, "y": {"datum": 110.5}, "y2": {"datum": 134}}},
{"transform": [{"filter": "datum.i"}], "mark": {"type": "text"}, "encoding": {"x": {"field": "h1", "type": "quantitative"}, "y": {"datum": 122.5}, "text": {"value": "high conf"}}},
{"transform": [{"filter": "datum.i"}], "mark": {"type": "text"}, "encoding": {"x": {"field": "h2", "type": "quantitative"}, "y": {"datum": 122.5}, "text": {"value": "high conf"}}},
{"transform": [{"filter": "datum.i"}], "mark": {"type": "text"}, "encoding": {"x": {"field": "c", "type": "quantitative"}, "y": {"datum": 141.5}, "text": {"value": "low conf"}}},
{"transform": [{"filter": "datum.i"}], "mark": {"type": "rule"}, "encoding": {"x": {"field": "c", "type": "quantitative"}, "y": {"datum": 134}, "y2": {"datum": 0}, "strokeDash": {"field": "ck", "type": "nominal"}}},
{"transform": [{"filter": "datum.i"}], "mark": {"type": "rule"}, "encoding": {"x": {"field": "lo", "type": "quantitative"}, "y": {"datum": 134}, "y2": {"datum": 4.8}, "strokeDash": {"field": "dk", "type": "nominal"}}},
{"transform": [{"filter": "datum.i"}], "mark": {"type": "rule"}, "encoding": {"x": {"field": "hi", "type": "quantitative"}, "y": {"datum": 134}, "y2": {"datum": 4.8}, "strokeDash": {"field": "dk", "type": "nominal"}}},
{"transform": [{"filter": "datum.i"}], "mark": {"type": "rule"}, "encoding": {"x": {"datum": 0}, "x2": {"datum": 10.85}, "y": {"datum": 0}}},
{"transform": [{"filter": "datum.i"}], "mark": {"type": "rule"}, "encoding": {"x": {"datum": 0}, "y": {"datum": 0}, "y2": {"datum": 129}}},
{"transform": [{"filter": "datum.i"}], "mark": {"type": "point", "shape": "triangle-up", "filled": true, "color": "black", "size": 40, "opacity": 1}, "encoding": {"x": {"datum": 0}, "y": {"datum": 130.5}}},
{"transform": [{"filter": "datum.s"}], "mark": {"type": "line"}, "encoding": {"x": {"field": "x", "type": "quantitative"}, "y": {"field": "y", "type": "quantitative"}, "color": {"field": "s", "type": "nominal", "scale": {"domain": ["noise", "signal"], "range": ["#c00000", "#4472c4"]}, "legend": null}}},
{"transform": [{"filter": "datum.i"}], "mark": {"type": "point", "shape": "M0,-1L0.2245,-0.309L0.951,-0.309L0.363,0.118L0.588,0.809L0,0.382L-0.588,0.809L-0.363,0.118L-0.951,-0.309L-0.2245,-0.309Z", "filled": true, "size": 200, "opacity": 1, "stroke": "white", "strokeWidth": 0.6}, "encoding": {"x": {"field": "sx", "type": "quantitative"}, "y": {"field": "sy", "type": "quantitative"}, "color": {"field": "ss", "type": "nominal", "legend": null}}},
{"transform": [{"filter": "datum.i"}], "mark": {"type": "text"}, "encoding": {"x": {"field": "nx", "type": "quantitative"}, "y": {"datum": 55.5}, "text": {"value": "noise"}}},
{"transform": [{"filter": "datum.i"}], "mark": {"type": "text", "align": "left", "clip": true}, "encoding": {"x": {"field": "gx", "type": "quantitative"}, "y": {"datum": 61.5}, "text": {"value": "signal-"}}},
{"transform": [{"filter": "datum.i"}], "mark": {"type": "text", "align": "left", "clip": true}, "encoding": {"x": {"field": "gx", "type": "quantitative"}, "y": {"datum": 46.5}, "text": {"value": "plus-noise"}}},
{"transform": [{"filter": "datum.i"}], "mark": {"type": "text", "align": "left", "fontSize": 20, "fontWeight": "bold", "color": "black"}, "encoding": {"x": {"datum": -1.05}, "y": {"datum": 162.5}, "text": {"field": "L", "type": "nominal"}}},
{"transform": [{"filter": "datum.i"}], "mark": {"type": "text", "align": "left", "fontSize": 11.5, "fontWeight": "bold", "color": "black"}, "encoding": {"x": {"datum": -0.32}, "y": {"datum": 162.5}, "text": {"field": "T", "type": "nominal"}}}
]}
]
}
